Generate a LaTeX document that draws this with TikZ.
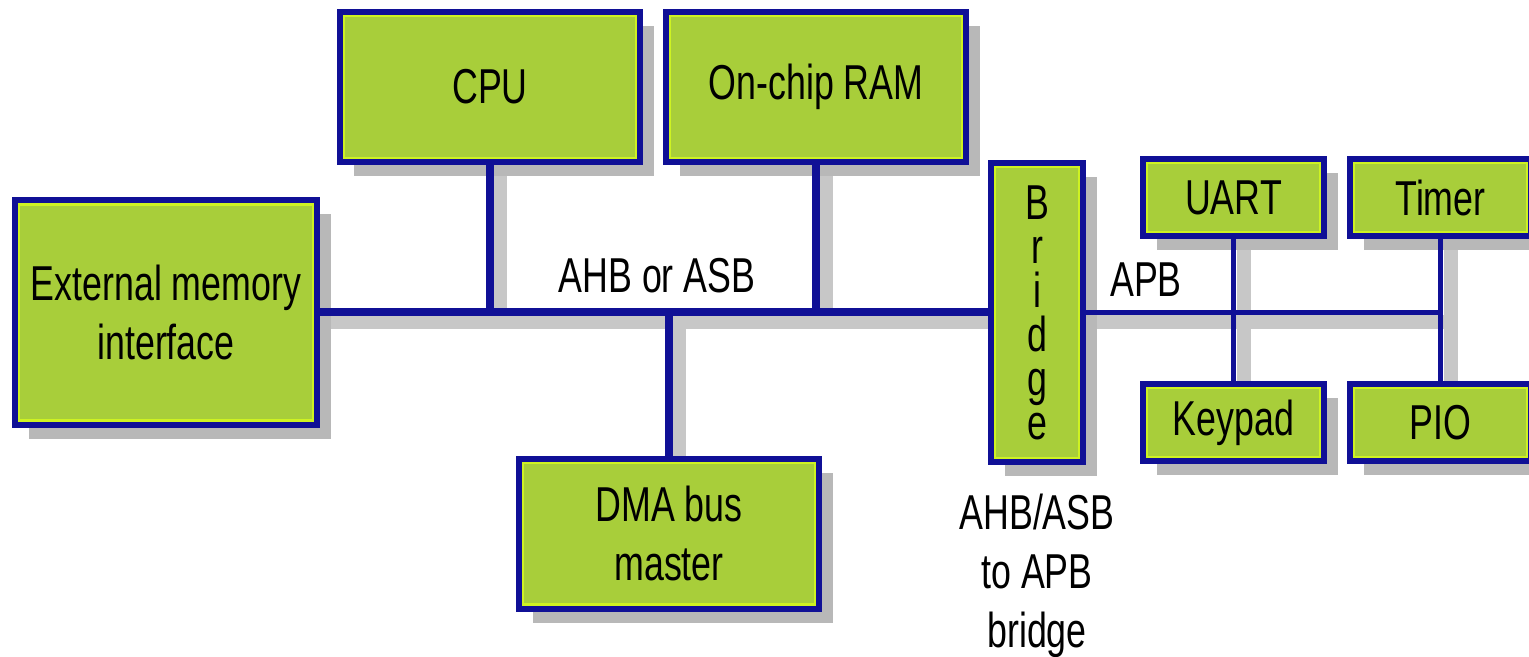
\documentclass[tikz,border=0pt]{standalone}
\usepackage{fontspec}
\setmainfont{Liberation Sans}[FakeStretch=0.73]
\usetikzlibrary{shadows,backgrounds}

\definecolor{chipgreen}{RGB}{168,206,58}
\definecolor{busblue}{RGB}{16,16,150}
\definecolor{glint}{RGB}{206,242,34}

\tikzset{
  unit/.style={draw=busblue, line width=3pt, fill=chipgreen, outer sep=0pt, inner sep=0pt,
    align=center, font=\fontsize{24.5}{29.5}\selectfont,
    drop shadow={shadow xshift=7pt, shadow yshift=-7pt, fill=black!28, opacity=1},
    path picture={\draw[glint, line width=1.2pt]
      ([shift={(2.1pt,-2.1pt)}]path picture bounding box.north west) rectangle
      ([shift={(-2.1pt,2.1pt)}]path picture bounding box.south east);}},
  bigbox/.style={unit, minimum width=150pt, minimum height=75pt},
  portbox/.style={unit, minimum width=90.5pt, minimum height=38.5pt},
  ahb/.style={draw=busblue, line width=4pt},
  apb/.style={draw=busblue, line width=2.5pt},
  wake/.style={draw=black!22, line width=7pt, transform canvas={shift={(5pt,-5pt)}}},
  lbl/.style={inner sep=0pt, align=center, font=\fontsize{24.5}{29.5}\selectfont}
}

\begin{document}
\begin{tikzpicture}[x=0.5pt,y=-0.5pt]
  \useasboundingbox (0,0) rectangle (1529,657);
  \clip (0,0) rectangle (1529,657);

  % AHB side
  \node[unit, minimum width=151pt, minimum height=112pt] (ext) at (166,312.5) {External memory\\interface};
  \node[bigbox] (cpu) at (490,87) {CPU};
  \node[bigbox] (ram) at (816,87) {On-chip RAM};
  \node[bigbox] (dma) at (669,533.5) {DMA bus\\master};
  \node[unit, minimum width=46pt, minimum height=149.5pt, font=\fontsize{24.5}{22}\selectfont]
    (bridge) at (1037,312.5) {B\\r\\i\\d\\g\\e};

  % APB side
  \node[portbox] (uart) at (1233.5,197.5) {UART};
  \node[portbox] (timer) at (1440.5,197.5) {Timer};
  \node[portbox] (keypad) at (1233.5,422.5) {Keypad};
  \node[portbox] (pio) at (1440.5,422.5) {PIO};

  \node[lbl] (ahblbl) at (657,276) {AHB or ASB};
  \node[lbl] (apblbl) at (1146,280) {APB};
  \node[lbl] (bridgelbl) at (1037,576) {AHB/ASB\\to APB\\bridge};

  % buses
  \draw[ahb] (ext.east) -- (bridge.west);
  \draw[ahb] (cpu.south) -- (cpu.south |- ext.east);
  \draw[ahb] (ram.south) -- (ram.south |- ext.east);
  \draw[ahb] (dma.north) -- (dma.north |- ext.east);
  \draw[apb] (bridge.east) -- (timer.south |- bridge.east);
  \draw[apb] (uart.south) -- (keypad.north);
  \draw[apb] (timer.south) -- (pio.north);

  \begin{pgfonlayer}{background}
    \draw[wake] (ext.east) -- (bridge.west);
    \draw[wake] (cpu.south) -- (cpu.south |- ext.east);
    \draw[wake] (ram.south) -- (ram.south |- ext.east);
    \draw[wake] (dma.north) -- (dma.north |- ext.east);
    \draw[wake] (bridge.east) -- (timer.south |- bridge.east);
    \draw[wake] (uart.south) -- (keypad.north);
    \draw[wake] (timer.south) -- (pio.north);
  \end{pgfonlayer}
\end{tikzpicture}
\end{document}
